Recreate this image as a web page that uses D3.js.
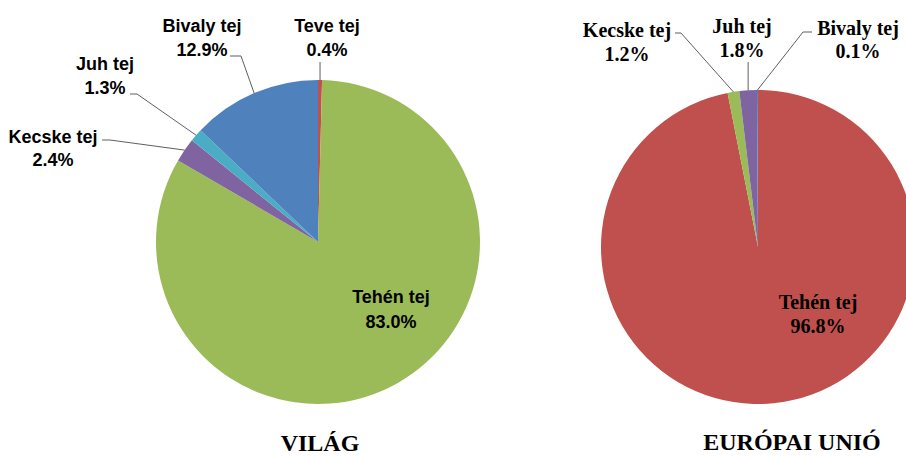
<!DOCTYPE html>
<html>
<head>
<meta charset="utf-8">
<script src="https://cdn.jsdelivr.net/npm/d3@7"></script>
<style>
  body { margin: 0; background: #fff; }
  svg { display: block; }
</style>
</head>
<body>
<svg id="app" width="906" height="456"></svg>
<script>
// adatok - világ
const worldCats = ["Teve tej", "Tehén tej", "Kecske tej", "Juh tej", "Bivaly tej"];
const worldVals = [0.4, 83.0, 2.4, 1.3, 12.9];
// adatok - EU
const euCats = ["Tehén tej", "Kecske tej", "Juh tej", "Bivaly tej"];
const euVals = [96.8, 1.2, 1.8, 0.1];

const COLORS = {
  "Bivaly tej": "#4F81BD",
  "Teve tej": "#C0504D",
  "Tehén tej": "#9BBB59",
  "Kecske tej": "#8064A2",
  "Juh tej": "#4BACC6"
};
const EU_COLORS = {
  "Bivaly tej": "#4F81BD",
  "Tehén tej": "#C0504D",
  "Kecske tej": "#9BBB59",
  "Juh tej": "#8064A2"
};

const fmt = d3.format(".1f");
const svg = d3.select("#app");

// címke elhelyezés: x közép, két alapvonal, vezetővonal kezdőpontjai
const worldLabels = {
  "Bivaly tej": { x: 202, y1: 32, y2: 56, line: [[230, 56], [241, 56]] },
  "Teve tej":   { x: 327, y1: 32, y2: 56, line: "v", top: 62 },
  "Juh tej":    { x: 105, y1: 70, y2: 94, line: [[130, 94], [137, 94]] },
  "Kecske tej": { x: 53,  y1: 143, y2: 166, line: [[102, 140], [110, 140]] },
  "Tehén tej":  { x: 391, y1: 303, y2: 328 }
};
const euLabels = {
  "Kecske tej": { x: 627, y1: 37, y2: 61, line: [[675, 33], [681, 33]] },
  "Juh tej":    { x: 742, y1: 33, y2: 57, line: "v", top: 62 },
  "Bivaly tej": { x: 858, y1: 35, y2: 58, line: [[812, 32], [803, 32]] },
  "Tehén tej":  { x: 818, y1: 309, y2: 333 }
};

function drawPie(cats, vals, colors, labels, opt) {
  const data = cats.map((c, i) => ({ cat: c, val: vals[i] }));
  const pie = d3.pie().sort(null).value(d => d.val);
  const arc = d3.arc().innerRadius(0).outerRadius(opt.r);
  const arcs = pie(data);

  const g = svg.append("g").attr("transform", `translate(${opt.cx},${opt.cy})`);
  g.selectAll("path")
    .data(arcs)
    .enter()
    .append("path")
    .attr("d", arc)
    .attr("fill", d => colors[d.data.cat]);

  // vezetővonalak
  arcs.forEach(d => {
    const lb = labels[d.data.cat];
    if (!lb.line) return;
    const a = (d.startAngle + d.endAngle) / 2;
    const ex = opt.cx + opt.r * Math.sin(a);
    const ey = opt.cy - opt.r * Math.cos(a);
    let pts;
    if (lb.line === "v") pts = [[ex, lb.top], [ex, ey]];
    else pts = lb.line.concat([[ex, ey]]);
    svg.append("path")
      .attr("d", d3.line()(pts))
      .attr("fill", "none")
      .attr("stroke", "#5f5f5f")
      .attr("stroke-width", 1);
  });

  // címkék
  arcs.forEach(d => {
    const lb = labels[d.data.cat];
    const t = svg.append("text")
      .attr("text-anchor", "middle")
      .attr("font-family", opt.font)
      .attr("font-weight", "bold")
      .attr("font-size", opt.fontSize)
      .attr("fill", "#000");
    t.append("tspan").attr("x", lb.x).attr("y", lb.y1).text(d.data.cat);
    t.append("tspan").attr("x", lb.x).attr("y", lb.y2).text(fmt(d.data.val) + "%");
  });

  svg.append("text")
    .attr("x", opt.titleX)
    .attr("y", opt.titleY)
    .attr("text-anchor", "middle")
    .attr("font-family", "'Liberation Serif', 'Times New Roman', serif")
    .attr("font-weight", "bold")
    .attr("font-size", 24)
    .text(opt.title);
}

drawPie(worldCats, worldVals, COLORS, worldLabels, {
  cx: 318, cy: 242, r: 162,
  font: "'Liberation Sans', Arial, sans-serif", fontSize: 18,
  title: "VILÁG", titleX: 320, titleY: 451
});

drawPie(euCats, euVals, EU_COLORS, euLabels, {
  cx: 758, cy: 247, r: 157,
  font: "'Liberation Serif', 'Times New Roman', serif", fontSize: 20,
  title: "EURÓPAI UNIÓ", titleX: 792, titleY: 450
});
</script>
</body>
</html>
